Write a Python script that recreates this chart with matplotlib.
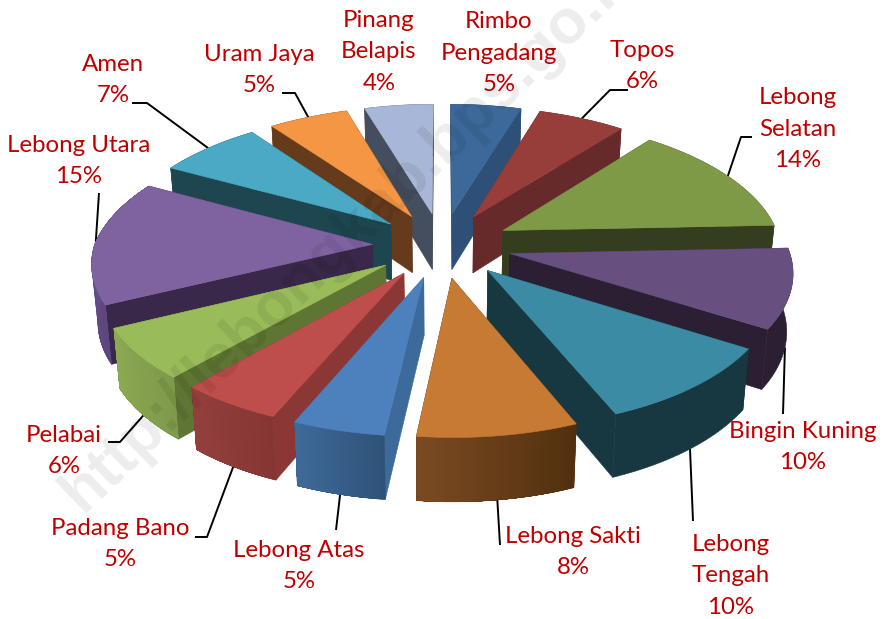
import numpy as np
import matplotlib
matplotlib.use("Agg")
import matplotlib.pyplot as plt
from matplotlib.patches import Polygon
from matplotlib.colors import to_rgb

# ---- data (clockwise from 12 o'clock) ----
names = ["Rimbo\nPengadang", "Topos", "Lebong\nSelatan", "Bingin Kuning", "Lebong\nTengah",
         "Lebong Sakti", "Lebong Atas", "Padang Bano", "Pelabai", "Lebong Utara",
         "Amen", "Uram Jaya", "Pinang\nBelapis"]
shares = [4.8, 5.9, 13.6, 9.6, 9.8, 8.0, 4.6, 5.1, 6.2, 15.1, 7.0, 5.4, 4.7]
shown = ["5%", "6%", "14%", "10%", "10%", "8%", "5%", "5%", "6%", "15%", "7%", "5%", "4%"]

# ---- styles ----
top_col = ["#3C6999", "#973E3B", "#7F9A47", "#67507F", "#3A8BA3", "#C77A33", "#4D81BD",
           "#BD4E4B", "#9ABB59", "#7F62A0", "#4AA9C4", "#F59644", "#A8B7D7"]
cut_col = ["#2E5077", "#652A29", "#353D1F", "#2A1F33", "#173841", "#5A3517", "#3C6A9B",
           "#8B3735", "#5F7533", "#392849", "#1E4650", "#653B1B", "#454E5E"]
rim_a = ["#2E5077", "#652A29", "#353D1F", "#2A1F33", "#173841", "#52300F", "#2F5378",
         "#853634", "#7F9A4A", "#5E4680", "#1E4650", "#653B1B", "#454E5E"]
rim_b = ["#2E5077", "#652A29", "#353D1F", "#2A1F33", "#173841", "#7A4A22", "#3E6A9A",
         "#93403D", "#8DA952", "#6F5690", "#1E4650", "#653B1B", "#454E5E"]

# label centre, elbows (from label to wedge)
label_pos = [(499, 53), (642, 66), (798, 129), (803, 447), (731, 576), (573, 552), (299, 566),
             (120, 544), (64, 451), (79, 161), (113, 80), (259, 70), (379, 52)]
elbows = [None, [(628, 90), (610, 90)], [(752, 137), (741, 137)], [(783, 414)], [(693, 521)],
          [(500, 545)], [(336, 530)], [(195, 537), (207, 537)], [(108, 442), (120, 442)],
          [(99, 193)], [(132, 103), (147, 103)], [(282, 93), (295, 93)], None]

CX, CY = 442, 245
A, B, K = 278, 130.3, 0.1246
K_BACK, K_FRONT = 0.15, 0.12
H = 57
EXPL = 0.25
LABEL_RED = "#C00000"


def proj(x, y, low=False):
    s = 1 / (1 + K * y)
    sx = 1 / (1 + (K_BACK if y > 0 else K_FRONT) * y)
    px = A * x * sx
    py = B * y * s
    if low:
        px *= 0.982
        return CX + px, CY - py + H * (1 + (s - 1) * 0.7)
    return CX + px, CY - py


def wedge_points(a0, a1, n=40):
    mid = (a0 + a1) / 2
    ex, ey = EXPL * np.sin(mid), EXPL * np.cos(mid)
    th = np.linspace(a0, a1, n)
    return ex, ey, ex + np.sin(th), ey + np.cos(th)


fig = plt.figure(figsize=(8.87, 6.19), dpi=100, facecolor="white")
ax = fig.add_axes([0, 0, 1, 1])
ax.set_xlim(0, 887)
ax.set_ylim(619, 0)
ax.axis("off")


def poly(pts, color, z, lw=0.4):
    ax.add_patch(Polygon(pts, closed=True, facecolor=color,
                         edgecolor=color if lw else "none", lw=lw, zorder=z))


fracs = np.array(shares) / sum(shares)
edges = np.concatenate([[0], np.cumsum(fracs)]) * 2 * np.pi
order = sorted(range(len(shares)), key=lambda i: -np.cos((edges[i] + edges[i + 1]) / 2))

for rank, i in enumerate(order):
    a0, a1 = edges[i], edges[i + 1]
    ex, ey, xs, ys = wedge_points(a0, a1)
    z = 2 + rank
    apex_t, apex_b = proj(ex, ey), proj(ex, ey, True)
    top = [proj(x, y) for x, y in zip(xs, ys)]
    bot = [proj(x, y, True) for x, y in zip(xs, ys)]
    poly([apex_t, top[0], bot[0], apex_b], cut_col[i], z)
    poly([apex_t, top[-1], bot[-1], apex_b], cut_col[i], z)
    ca, cb = np.array(to_rgb(rim_a[i])), np.array(to_rgb(rim_b[i]))
    poly(top + bot[::-1], rim_a[i], z)
    if rim_a[i] != rim_b[i]:
        # each band reaches to the far end, later bands paint over it: no seams
        for j in range(len(top) - 1):
            t = j / (len(top) - 2)
            poly(top[j:] + bot[j:][::-1], tuple(ca + (cb - ca) * t), z, lw=0)
    poly([apex_t] + top, top_col[i], z)

# labels and leader lines
for i, (nm, pct) in enumerate(zip(names, shown)):
    lx, ly = label_pos[i]
    ax.text(lx, ly, nm + "\n" + pct, ha="center", va="center", ma="center", color=LABEL_RED,
            family="Lato", fontsize=17.3, linespacing=1.6, zorder=40)
    if elbows[i] is None:
        continue
    mid = (edges[i] + edges[i + 1]) / 2
    ex, ey = EXPL * np.sin(mid), EXPL * np.cos(mid)
    xr, yr = ex + np.sin(mid), ey + np.cos(mid)
    end = proj(xr, yr, low=bool(np.cos(mid) < -0.05))
    pts = elbows[i] + [end]
    ax.plot([p[0] for p in pts], [p[1] for p in pts], color="black", lw=1.4, zorder=1,
            solid_capstyle="butt")

# watermark
ax.text(83, 514, "http://lebongkab.bps.go.id", rotation=44, rotation_mode="anchor",
        ha="left", va="baseline", family="Liberation Sans", weight="bold", fontsize=45,
        color="black", alpha=0.075, zorder=50, clip_on=True)

fig.savefig("out.png", dpi=100, facecolor="white")
